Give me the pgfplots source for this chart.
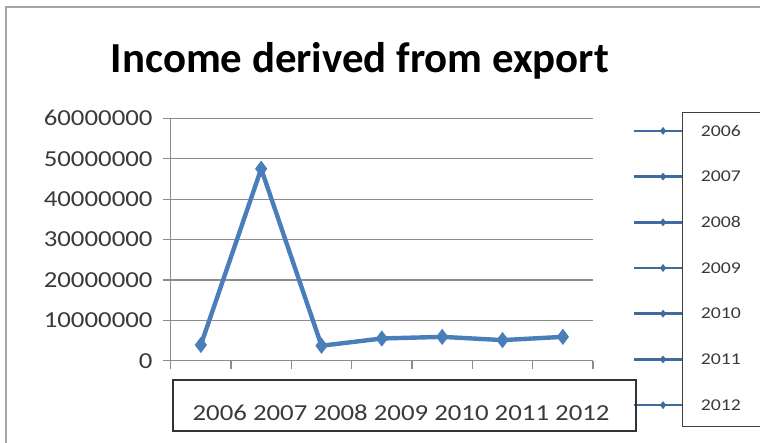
\documentclass[border=0pt]{standalone}
\usepackage{fontspec}
\setmainfont{Carlito}
\newfontfamily\tickfont[FakeStretch=1.17]{Carlito}
\newfontfamily\legfont[FakeStretch=1.2]{Carlito}
\usepackage{pgfplots}
\pgfplotsset{compat=1.18}
\definecolor{serblue}{HTML}{4A7EBB}
\definecolor{gridc}{HTML}{8C8C8C}
\definecolor{tickc}{HTML}{3A3A3A}
\begin{document}
\begin{tikzpicture}
\useasboundingbox (0,0) rectangle (760bp,443bp);
\clip (0,0) rectangle (760bp,443bp);
% outer frame
\draw[color=gray!70, line width=2bp] (5.5bp,-5bp) -- (5.5bp,435.7bp) -- (770bp,435.7bp);
% title
\node[anchor=base, inner sep=0pt] at (360bp,370bp) {\bfseries\fontsize{43}{43}\selectfont Income derived from export};
\begin{axis}[
  at={(170.7bp,82.3bp)}, anchor=south west,
  scale only axis, width=422.3bp, height=242.4bp,
  xmin=-0.5, xmax=6.5, ymin=0, ymax=60000000,
  scaled y ticks=false,
  axis lines*=left, axis line style={gridc, line width=1.2bp},
  xtick={-0.5,0.5,...,6.5}, xticklabels={},
  ytick={0,10000000,20000000,30000000,40000000,50000000,60000000},
  yticklabels={0,10000000,20000000,30000000,40000000,50000000,60000000},
  yticklabel style={font=\tickfont\fontsize{23}{23}\selectfont, text=tickc, inner sep=0pt, anchor=east, xshift=-10bp},
  tick align=outside, major tick length=8bp,
  tick style={gridc, line width=1.2bp},
  ymajorgrids, grid style={gridc, line width=1.2bp},
  clip=false,
  legend style={at={(1.0948,0.3824)}, anchor=west, draw=none, fill=none, inner sep=0pt, outer sep=0pt,
    font=\legfont\fontsize{16.5}{16.5}\selectfont, text=tickc,
    nodes={inner sep=0pt, minimum height=45.7bp, text height=10.4bp, text depth=0pt},
    row sep=0pt,
    /tikz/every odd column/.append style={column sep=16.6bp}},
  legend cell align=left,
  legend image code/.code={
    \draw[line width=2.6bp, color=serblue!85!black] (0bp,0bp) -- (48.7bp,0bp);
    \fill[serblue!85!black] (28.7bp,0bp) +(0,3.6bp) -- +(2.8bp,0) -- +(0,-3.6bp) -- +(-2.8bp,0) -- cycle;
  },
]
\addplot[forget plot, color=serblue, line width=4.4bp, mark=diamond*, mark size=4.5bp, mark options={solid, fill=serblue}]
  coordinates {(0,3900000) (1,47500000) (2,3700000) (3,5500000) (4,5900000) (5,5100000) (6,5900000)};
\addlegendimage{serblue}\addlegendentry{2006}
\addlegendimage{serblue}\addlegendentry{2007}
\addlegendimage{serblue}\addlegendentry{2008}
\addlegendimage{serblue}\addlegendentry{2009}
\addlegendimage{serblue}\addlegendentry{2010}
\addlegendimage{serblue}\addlegendentry{2011}
\addlegendimage{serblue}\addlegendentry{2012}
\end{axis}
% category label box
\draw[color=black!80, line width=1.6bp] (172.7bp,12bp) rectangle (636bp,63bp);
\node[anchor=base, inner sep=0pt, text=tickc] at (401bp,23bp) {\tickfont\fontsize{23}{23}\selectfont 2006 2007 2008 2009 2010 2011 2012};
% legend box
\draw[color=black!75, line width=1.4bp] (682.3bp,16.3bp) -- (682.3bp,330.3bp) -- (770bp,330.3bp);
\draw[color=black!75, line width=1.4bp] (682.3bp,16.3bp) -- (770bp,16.3bp);
\end{tikzpicture}
\end{document}
